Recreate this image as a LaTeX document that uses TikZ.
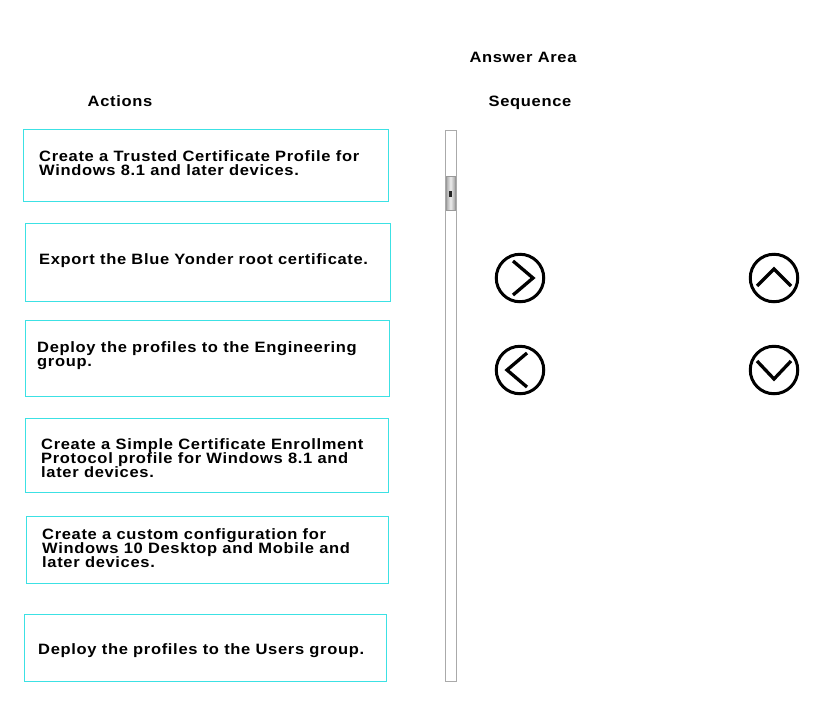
\documentclass[tikz,border=0pt]{standalone}
\usepackage{fontspec}
\setmainfont{Liberation Sans}[LetterSpace=4.5,FakeStretch=1.1]
\definecolor{boxcyan}{RGB}{60,225,228}
\definecolor{sbgray}{RGB}{170,170,170}
\begin{document}
\lineskiplimit=-10pt\relax
\begin{tikzpicture}[x=1pt,y=-1pt,
  actbox/.style={draw=boxcyan,line width=0.8pt,rectangle,inner sep=0pt},
  acttext/.style={anchor=base west,align=left,inner sep=0pt,font=\fontsize{15}{13.8}\bfseries\selectfont},
  head/.style={inner sep=0pt,anchor=base,font=\fontsize{15}{15}\bfseries\selectfont},
  ring/.style={draw=black,line width=3pt,circle,minimum size=47.5pt,inner sep=0pt},
  chev/.style={draw=black,line width=3.3pt,line cap=butt,line join=miter}]
\useasboundingbox (0,0) rectangle (835,713);
\fill[white] (0,0) rectangle (835,713);
% headers
\node[head] (ansarea) at (523,62) {Answer Area};
\node[head] (actions) at (120,106) {Actions};
\node[head] (sequence) at (530,106) {Sequence};
% boxes
\node[actbox,minimum width=365pt,minimum height=72pt] (b1) at (205.5,165) {};
\node[actbox,minimum width=365pt,minimum height=78pt] (b2) at (207.5,262) {};
\node[actbox,minimum width=364pt,minimum height=76pt] (b3) at (207,358) {};
\node[actbox,minimum width=363pt,minimum height=74pt] (b4) at (206.5,455) {};
\node[actbox,minimum width=362pt,minimum height=67pt] (b5) at (207,549.5) {};
\node[actbox,minimum width=362pt,minimum height=67pt] (b6) at (205,647.5) {};
% texts (anchor = baseline of the last line)
\node[acttext] (t1) at (39,175) {Create a Trusted Certificate Profile for\\Windows 8.1 and later devices.};
\node[acttext] (t2) at (39,264) {Export the Blue Yonder root certificate.};
\node[acttext] (t3) at (37,366) {Deploy the profiles to the Engineering\\group.};
\node[acttext] (t4) at (41,477) {Create a Simple Certificate Enrollment\\Protocol profile for Windows 8.1 and\\later devices.};
\node[acttext] (t5) at (42,567) {Create a custom configuration for\\Windows 10 Desktop and Mobile and\\later devices.};
\node[acttext] (t6) at (38,654) {Deploy the profiles to the Users group.};
% scrollbar
\node[draw=sbgray,line width=0.8pt,minimum width=11pt,minimum height=551pt,inner sep=0pt] (sb) at (450.5,405.5) {};
\node[draw=gray!80,line width=0.7pt,left color=gray!70,right color=gray!70,middle color=gray!15,minimum width=9pt,minimum height=34pt,inner sep=0pt] (thumb) at (450.5,193) {};
\node[fill=black!85,minimum width=3.5pt,minimum height=6pt,inner sep=0pt] (grip) at (450.5,194) {};
% buttons
\node[ring] (right) at (520,278) {};
\node[ring] (left) at (520,370) {};
\node[ring] (up) at (774,278) {};
\node[ring] (down) at (774,370) {};
\draw[chev] ([shift={(-7,-17)}]right.center) -- ([shift={(13,0)}]right.center) -- ([shift={(-7,17)}]right.center);
\draw[chev] ([shift={(7,-17)}]left.center) -- ([shift={(-13,0)}]left.center) -- ([shift={(7,17)}]left.center);
\draw[chev] ([shift={(-17,8)}]up.center) -- ([shift={(0,-9)}]up.center) -- ([shift={(17,8)}]up.center);
\draw[chev] ([shift={(-17,-9)}]down.center) -- ([shift={(0,9)}]down.center) -- ([shift={(17,-9)}]down.center);
\end{tikzpicture}
\end{document}
